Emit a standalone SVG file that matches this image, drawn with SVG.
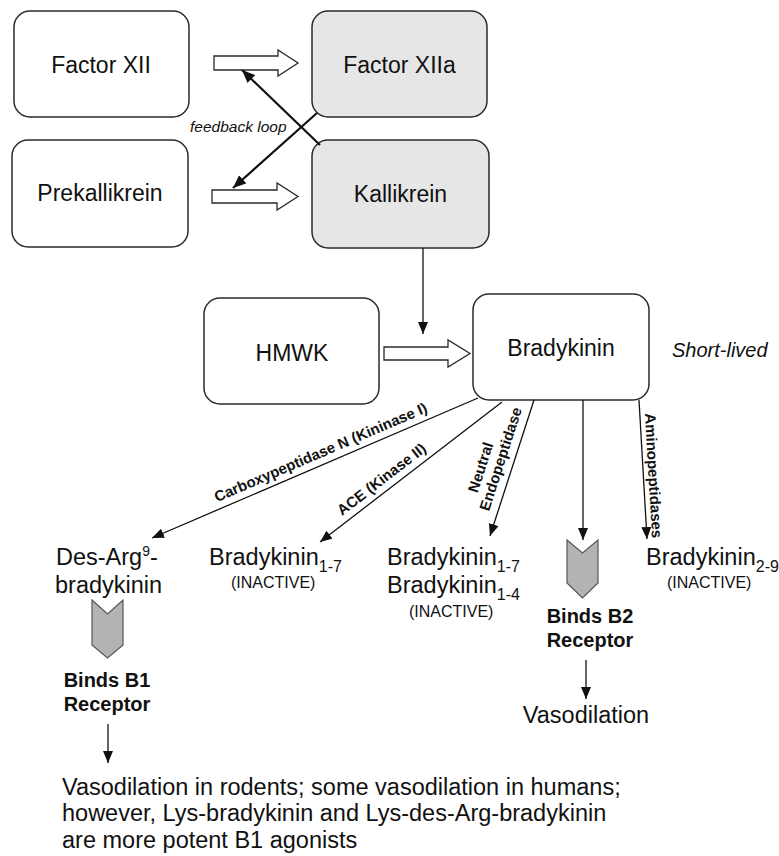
<svg xmlns="http://www.w3.org/2000/svg" width="779" height="856" viewBox="0 0 779 856">
  <style>
    .box { fill: #ffffff; stroke: #2a2a2a; stroke-width: 1.5; }
    .box.active { fill: #e6e6e6; }
    .label { font-family: "Liberation Sans", Arial, Helvetica, sans-serif; font-size: 23px; fill: #111; text-anchor: middle; }
    .txt { font-family: "Liberation Sans", Arial, Helvetica, sans-serif; font-size: 23.5px; fill: #111; }
    .sub { font-size: 16px; }
    .small { font-family: "Liberation Sans", Arial, Helvetica, sans-serif; font-size: 16px; fill: #111; }
    .bold { font-family: "Liberation Sans", Arial, Helvetica, sans-serif; font-size: 20px; font-weight: bold; fill: #111; text-anchor: middle; }
    .enz { font-family: "Liberation Sans", Arial, Helvetica, sans-serif; font-size: 15px; font-weight: bold; fill: #111; text-anchor: middle; }
    .ital { font-family: "Liberation Sans", Arial, Helvetica, sans-serif; font-style: italic; fill: #111; }
    .hollow { fill: #ffffff; stroke: #2a2a2a; stroke-width: 1.3; stroke-linejoin: miter; }
    .thin { stroke: #111; stroke-width: 1.3; fill: none; marker-end: url(#head); }
    .thick { stroke: #111; stroke-width: 2.2; fill: none; marker-end: url(#headBig); }
    .chev { fill: #b3b3b3; stroke: #555; stroke-width: 1.2; }
  </style>
  <defs>
    <marker id="head" markerUnits="userSpaceOnUse" markerWidth="12" markerHeight="10" viewBox="0 0 12 10" refX="12" refY="5" orient="auto">
      <path d="M0,0 L12,5 L0,10 z" fill="#111"/>
    </marker>
    <marker id="headBig" markerUnits="userSpaceOnUse" markerWidth="13" markerHeight="11" viewBox="0 0 13 11" refX="13" refY="5.5" orient="auto">
      <path d="M0,0 L13,5.5 L0,11 z" fill="#111"/>
    </marker>
  </defs>

  <rect width="779" height="856" fill="#ffffff"/>

  <!-- contact activation boxes -->
  <g id="factor-xii">
    <rect class="box" x="14" y="11" width="175" height="106" rx="16"/>
    <text class="label" x="101" y="73">Factor XII</text>
  </g>
  <g id="factor-xiia">
    <rect class="box active" x="312" y="11" width="175" height="106" rx="16"/>
    <text class="label" x="399.5" y="73">Factor XIIa</text>
  </g>
  <g id="prekallikrein">
    <rect class="box" x="12" y="140" width="176" height="107" rx="16"/>
    <text class="label" x="100" y="201">Prekallikrein</text>
  </g>
  <g id="kallikrein">
    <rect class="box active" x="312" y="140" width="177" height="108" rx="16"/>
    <text class="label" x="400.5" y="202">Kallikrein</text>
  </g>
  <g id="hmwk">
    <rect class="box" x="204" y="298" width="175" height="106" rx="16"/>
    <text class="label" x="292" y="361">HMWK</text>
  </g>
  <g id="bradykinin">
    <rect class="box" x="473" y="294" width="176" height="106" rx="16"/>
    <text class="label" x="561" y="356">Bradykinin</text>
  </g>
  <text class="ital" x="672" y="357" font-size="20">Short-lived</text>

  <!-- connectors -->
  <g id="connectors">
    <!-- hollow conversion arrows -->
    <polygon class="hollow" points="214,56 278,56 278,50 298,63 278,76 278,70 214,70"/>
    <polygon class="hollow" points="212,190 277,190 277,183 298,196.5 277,210 277,203 212,203"/>
    <polygon class="hollow" points="384,347 448,347 448,340 470,353.5 448,367 448,360 384,360"/>

    <!-- feedback loop -->
    <line class="thick" x1="320" y1="145" x2="242" y2="70"/>
    <line class="thick" x1="317" y1="113" x2="233" y2="188"/>

    <!-- kallikrein acts on HMWK -->
    <line class="thin" x1="423" y1="248" x2="423" y2="334"/>

    <!-- bradykinin breakdown -->
    <line class="thin" x1="478" y1="398" x2="152" y2="538"/>
    <line class="thin" x1="502" y1="402" x2="320" y2="542"/>
    <line class="thin" x1="534" y1="400" x2="490" y2="536"/>
    <line class="thin" x1="583" y1="400" x2="583" y2="540"/>
    <line class="thin" x1="639" y1="400" x2="647" y2="539"/>

    <!-- receptor effects -->
    <line class="thin" x1="108" y1="724" x2="108" y2="763"/>
    <line class="thin" x1="586" y1="660" x2="586" y2="699"/>
  </g>

  <text class="ital" x="190" y="132" font-size="15.5">feedback loop</text>

  <!-- enzyme labels along the breakdown arrows -->
  <text class="enz" transform="translate(322.7,457) rotate(-23.2)">Carboxypeptidase N (Kininase I)</text>
  <text class="enz" transform="translate(384.7,483.3) rotate(-37.6)">ACE (Kinase II)</text>
  <text class="enz" transform="translate(485.5,468.8) rotate(-72.1)">Neutral</text>
  <text class="enz" transform="translate(505.5,460.5) rotate(-72.1)">Endopeptidase</text>
  <text class="enz" transform="translate(648.5,476) rotate(86.7)">Aminopeptidases</text>

  <!-- products -->
  <g id="des-arg9-bradykinin">
    <text class="txt" x="56" y="565">Des-Arg<tspan font-size="14" dy="-9">9</tspan><tspan dy="9">-</tspan></text>
    <text class="txt" x="55" y="593">bradykinin</text>
  </g>
  <g id="bk-1-7">
    <text class="txt" x="209" y="565">Bradykinin<tspan class="sub" dy="7">1-7</tspan></text>
    <text class="small" x="231" y="588">(INACTIVE)</text>
  </g>
  <g id="bk-1-7-1-4">
    <text class="txt" x="387" y="565">Bradykinin<tspan class="sub" dy="7">1-7</tspan></text>
    <text class="txt" x="387" y="593">Bradykinin<tspan class="sub" dy="7">1-4</tspan></text>
    <text class="small" x="409" y="617">(INACTIVE)</text>
  </g>
  <g id="bk-2-9">
    <text class="txt" x="646" y="565">Bradykinin<tspan class="sub" dy="7">2-9</tspan></text>
    <text class="small" x="667" y="588">(INACTIVE)</text>
  </g>

  <!-- receptor binding -->
  <g id="b1-receptor">
    <polygon class="chev" points="92,600 107.5,614 123,600 123,645 107.5,658 92,645"/>
    <text class="bold" x="107" y="687">Binds B1</text>
    <text class="bold" x="107" y="711">Receptor</text>
  </g>
  <g id="b2-receptor">
    <polygon class="chev" points="567,540 582.5,553 598,540 598,583 582.5,598 567,583"/>
    <text class="bold" x="590" y="623">Binds B2</text>
    <text class="bold" x="590" y="647">Receptor</text>
  </g>

  <g id="b2-effect">
    <text class="txt" x="586" y="723" text-anchor="middle">Vasodilation</text>
  </g>
  <g id="b1-effect">
    <text class="txt" x="62" y="795" font-size="24">Vasodilation in rodents; some vasodilation in humans;</text>
    <text class="txt" x="62" y="821" font-size="24">however, Lys-bradykinin and Lys-des-Arg-bradykinin</text>
    <text class="txt" x="62" y="848" font-size="24">are more potent B1 agonists</text>
  </g>
</svg>
